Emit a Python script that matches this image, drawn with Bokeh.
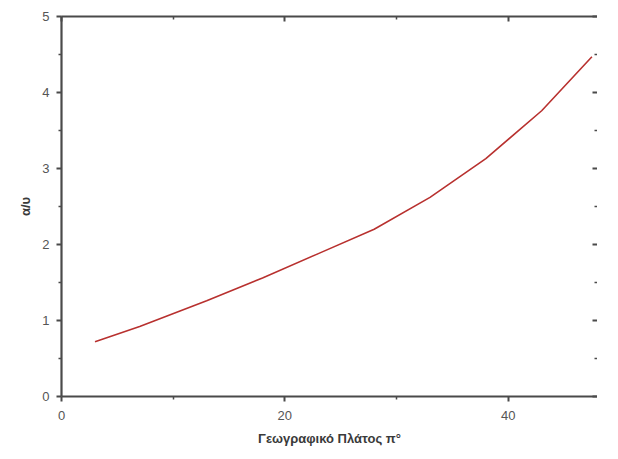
from bokeh.plotting import figure
from bokeh.models import LinearAxis, FixedTicker, Range1d
from bokeh.embed import file_html
from bokeh.resources import INLINE

latitude = [3, 7, 13, 18, 23, 28, 33, 38, 43, 47.5]
ratio = [0.72, 0.92, 1.26, 1.56, 1.88, 2.20, 2.62, 3.13, 3.76, 4.47]

x_major = [0, 20, 40]
x_minor = [10, 30]
y_major = [0, 1, 2, 3, 4, 5]
y_minor = [0.5, 1.5, 2.5, 3.5, 4.5]

p = figure(width=602, height=443, output_backend="svg", toolbar_location=None,
           x_range=Range1d(0, 48.0), y_range=Range1d(0, 5),
           min_border_left=61, min_border_right=0, min_border_top=16, min_border_bottom=30,
           x_axis_label="Γεωγραφικό Πλάτος π°", y_axis_label="α/υ")
p.frame_width = 536
p.frame_height = 380
p.grid.visible = False
p.outline_line_color = None
p.background_fill_color = "white"
p.border_fill_color = "white"

p.line(latitude, ratio, line_color="#b8312f", line_width=1.6)

axis_col = "#4a4a4a"
lab_col = "#555555"

def style(ax, major, minor, inward):
    ax.ticker = FixedTicker(ticks=major, minor_ticks=minor)
    ax.axis_line_color = axis_col
    ax.axis_line_width = 2.2
    ax.major_tick_line_color = axis_col
    ax.minor_tick_line_color = axis_col
    ax.major_tick_line_width = 2
    ax.minor_tick_line_width = 1.5
    if inward:
        ax.major_tick_in = 5
        ax.major_tick_out = 0
        ax.minor_tick_in = 3
        ax.minor_tick_out = 0
    else:
        ax.major_tick_in = 0
        ax.major_tick_out = 5
        ax.minor_tick_in = 0
        ax.minor_tick_out = 3
    ax.major_label_text_font = "Liberation Sans"
    ax.major_label_text_font_size = "13px"
    ax.major_label_text_color = lab_col
    ax.axis_label_text_font = "Liberation Sans"
    ax.axis_label_text_font_style = "bold"
    ax.axis_label_text_font_size = "13px"
    ax.axis_label_text_color = "#3a3a3a"

style(p.xaxis[0], x_major, x_minor, False)
style(p.yaxis[0], y_major, y_minor, False)
p.xaxis[0].major_label_standoff = 9
p.xaxis[0].axis_label_standoff = 8
p.yaxis[0].major_label_standoff = 7
p.yaxis[0].axis_label_standoff = 6

top = LinearAxis(major_label_standoff=0)
style(top, x_major, x_minor, True)
top.major_label_text_font_size = "1px"
top.major_label_text_alpha = 0
p.add_layout(top, "above")

right = LinearAxis(major_label_standoff=0)
style(right, y_major, y_minor, True)
right.axis_line_alpha = 0
right.major_label_text_alpha = 0
right.major_label_text_font_size = "1px"
p.add_layout(right, "right")

open("out.html", "w").write(file_html(p, INLINE))
